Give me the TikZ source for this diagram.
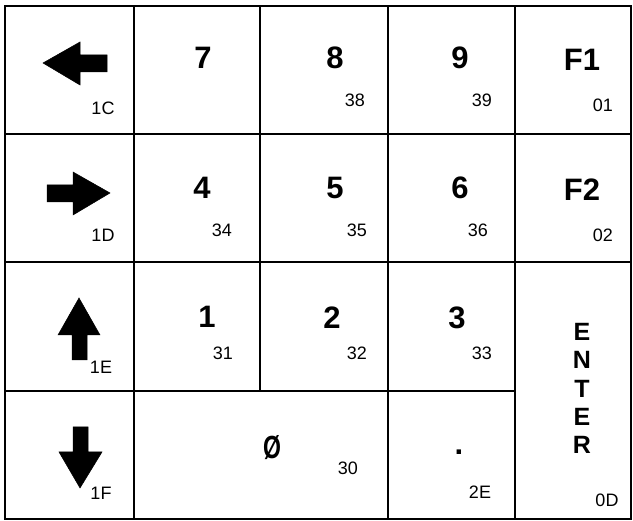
\documentclass[tikz,border=0pt]{standalone}
\usepackage{fontspec}
\usepackage{graphicx}
\setmainfont{Liberation Sans}
\begin{document}
\begin{tikzpicture}[x=1pt,y=-1pt,
  cell/.style={draw=black,line width=1.6pt},
  big/.style={inner sep=0pt,font=\fontsize{31}{31}\selectfont\bfseries},
  small/.style={inner sep=0pt,font=\fontsize{18}{18}\selectfont},
  ent/.style={inner sep=0pt,font=\fontsize{25}{25}\selectfont\bfseries},
  arr/.style={fill=black,draw=black,line width=0.5pt,line join=miter}]
\useasboundingbox (0,0) rectangle (633,521);
\fill[white] (0,0) rectangle (633,521);
% grid cells
\draw[cell] (5,6) rectangle (134,134);
\draw[cell] (134,6) rectangle (260,134);
\draw[cell] (260,6) rectangle (388,134);
\draw[cell] (388,6) rectangle (515,134);
\draw[cell] (515,6) rectangle (631,134);
\draw[cell] (5,134) rectangle (134,262);
\draw[cell] (134,134) rectangle (260,262);
\draw[cell] (260,134) rectangle (388,262);
\draw[cell] (388,134) rectangle (515,262);
\draw[cell] (515,134) rectangle (631,262);
\draw[cell] (5,262) rectangle (134,391);
\draw[cell] (134,262) rectangle (260,391);
\draw[cell] (260,262) rectangle (388,391);
\draw[cell] (388,262) rectangle (515,391);
\draw[cell] (515,262) rectangle (631,519);
\draw[cell] (5,391) rectangle (134,519);
\draw[cell] (134,391) rectangle (388,519);
\draw[cell] (388,391) rectangle (515,519);
% arrows
\fill[arr] (43,63) -- (80,42) -- (80,55) -- (107,55) -- (107,72) -- (80,72) -- (80,85) -- cycle;
\fill[arr] (110,193) -- (73,172) -- (73,185) -- (47,185) -- (47,202) -- (73,202) -- (73,215) -- cycle;
\fill[arr] (79,298) -- (58,335) -- (72,335) -- (72,360) -- (87,360) -- (87,335) -- (100,335) -- cycle;
\fill[arr] (80,488) -- (59,452) -- (73,452) -- (73,427) -- (88,427) -- (88,452) -- (102,452) -- cycle;
% labels
\node[small] (l1C) at (103,108) {1C};
\node[small] (l1D) at (103,235) {1D};
\node[small] (l1E) at (101,367) {1E};
\node[small] (l1F) at (101,493) {1F};
\node[big] (k7) at (203,58) {7};
\node[big] (k8) at (335,58) {8};
\node[small] (l38) at (355,100) {38};
\node[big] (k9) at (460,58) {9};
\node[small] (l39) at (482,100) {39};
\node[big] (kF1) at (582,60) {F1};
\node[small] (l01) at (603,105) {01};
\node[big] (k4) at (202,188) {4};
\node[small] (l34) at (222,230) {34};
\node[big] (k5) at (335,188) {5};
\node[small] (l35) at (357,230) {35};
\node[big] (k6) at (460,188) {6};
\node[small] (l36) at (478,230) {36};
\node[big] (kF2) at (582,190) {F2};
\node[small] (l02) at (603,235) {02};
\node[big] (k1) at (207,317) {1};
\node[small] (l31) at (223,353) {31};
\node[big] (k2) at (332,318) {2};
\node[small] (l32) at (357,353) {32};
\node[big] (k3) at (457,318) {3};
\node[small] (l33) at (482,353) {33};
\node[inner sep=0pt,font=\fontsize{32}{32}\selectfont\bfseries] (k0) at (272,448) {\scalebox{0.72}[1]{Ø}};
\node[small] (l30) at (348,468) {30};
\node[big] (kdot) at (459,452) {.};
\node[small] (l2E) at (480,492) {2E};
\node[ent] (e1) at (582,332) {E};
\node[ent] (e2) at (582,360) {N};
\node[ent] (e3) at (582,389) {T};
\node[ent] (e4) at (582,417) {E};
\node[ent] (e5) at (582,445) {R};
\node[small] (l0D) at (607,500) {0D};
\end{tikzpicture}
\end{document}
